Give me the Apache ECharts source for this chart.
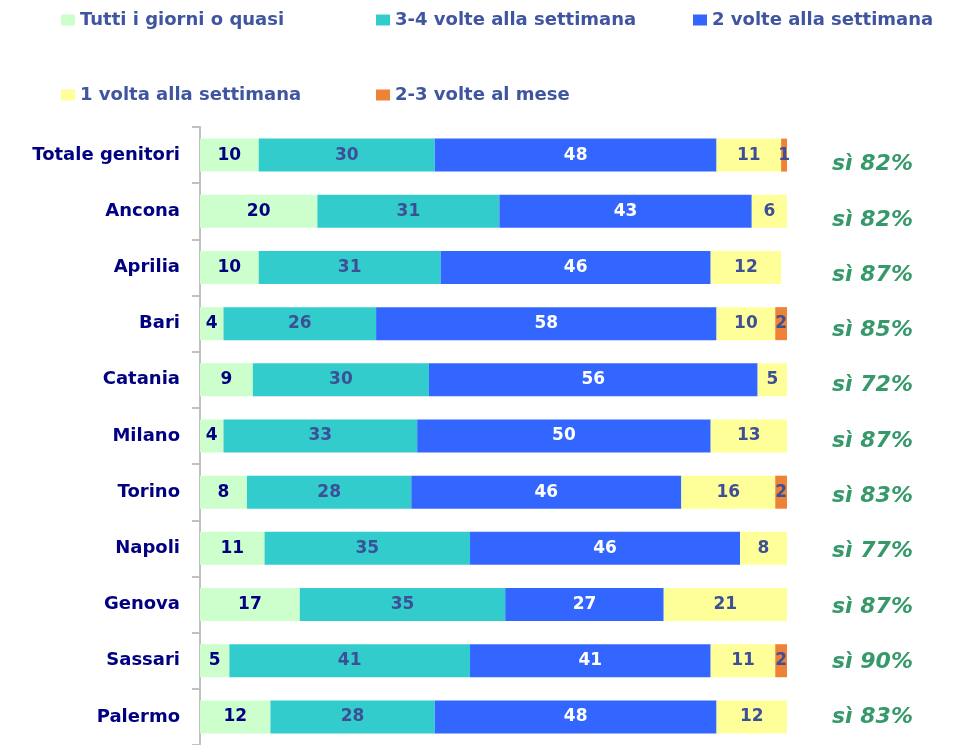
<!DOCTYPE html>
<html>
<head>
<meta charset="utf-8">
<script src="https://cdn.jsdelivr.net/npm/echarts@6/dist/echarts.min.js"></script>
<style>
  html, body { margin: 0; padding: 0; background: #fff; }
  #chart { width: 959px; height: 745px; }
</style>
</head>
<body>
<div id="chart"></div>
<script>
// categorie (dall'alto verso il basso)
var citta = ['Totale genitori', 'Ancona', 'Aprilia', 'Bari', 'Catania', 'Milano',
             'Torino', 'Napoli', 'Genova', 'Sassari', 'Palermo'];

// percentuali per frequenza
var tuttiGiorni   = [10, 20, 10, 4, 9, 4, 8, 11, 17, 5, 12];
var treQuattro    = [30, 31, 31, 26, 30, 33, 28, 35, 35, 41, 28];
var dueVolte      = [48, 43, 46, 58, 56, 50, 46, 46, 27, 41, 48];
var unaVolta      = [11, 6, 12, 10, 5, 13, 16, 8, 21, 11, 12];
var dueTreMese    = [1, null, null, 2, null, null, 2, null, null, 2, null];

// "sì" a destra
var siLabels = ['sì 82%', 'sì 82%', 'sì 87%', 'sì 85%', 'sì 72%', 'sì 87%',
                'sì 83%', 'sì 77%', 'sì 87%', 'sì 90%', 'sì 83%'];

var nomi = ['Tutti i giorni o quasi', '3-4 volte alla settimana', '2 volte alla settimana',
            '1 volta alla settimana', '2-3 volte al mese'];
var colori = ['#CCFFCC', '#33CCCC', '#3366FF', '#FFFF99', '#EE8236'];
var coloriEtichette = ['#000080', '#3d4f96', '#ffffff', '#3d4f96', '#3d4f96'];
var valori = [tuttiGiorni, treQuattro, dueVolte, unaVolta, dueTreMese];

var FONT = 'DejaVu Sans';

var myChart = echarts.init(document.getElementById('chart'));

// legende separate per tenerle in colonna come nell'originale
function legenda(nome, left, top) {
  return {
    data: [nome],
    left: left,
    top: top,
    itemWidth: 14,
    itemHeight: 11,
    icon: 'rect',
    textStyle: { fontFamily: FONT, fontWeight: 'bold', fontSize: 18, color: '#3f55a0' }
  };
}

var series = nomi.map(function (n, i) {
  return {
    name: n,
    type: 'bar',
    stack: 'tot',
    barWidth: 33,
    data: valori[i],
    itemStyle: { color: colori[i] },
    label: {
      show: true,
      position: 'inside',
      fontFamily: FONT,
      fontWeight: 'bold',
      fontSize: 17,
      color: coloriEtichette[i]
    },
    animation: false
  };
});

myChart.setOption({
  animation: false,
  legend: [
    legenda(nomi[0], 56, 6),
    legenda(nomi[1], 371, 6),
    legenda(nomi[2], 688, 6),
    legenda(nomi[3], 56, 81),
    legenda(nomi[4], 371, 81)
  ],
  grid: [
    { left: 200, top: 127, width: 587, height: 624 },
    // griglia spostata un po' in basso per le etichette "sì"
    { left: 200, top: 137, width: 587, height: 624 }
  ],
  xAxis: [
    { type: 'value', min: 0, max: 100, show: false, gridIndex: 0 },
    { type: 'value', min: 0, max: 100, show: false, gridIndex: 1 }
  ],
  yAxis: [
    {
      type: 'category',
      gridIndex: 0,
      data: citta,
      inverse: true,
      axisLine: { lineStyle: { color: '#c0c0c0', width: 2 } },
      axisTick: { show: true, length: 8, lineStyle: { color: '#c0c0c0', width: 2 } },
      axisLabel: {
        margin: 20,
        fontFamily: FONT,
        fontWeight: 'bold',
        fontSize: 18,
        color: '#000080'
      }
    },
    {
      type: 'category',
      gridIndex: 1,
      data: siLabels,
      inverse: true,
      position: 'right',
      axisLine: { show: false },
      axisTick: { show: false },
      axisLabel: {
        margin: 45,
        align: 'left',
        fontFamily: FONT,
        fontWeight: 'bold',
        fontStyle: 'italic',
        fontSize: 22,
        color: '#35996a'
      }
    }
  ],
  series: series
});
</script>
</body>
</html>
